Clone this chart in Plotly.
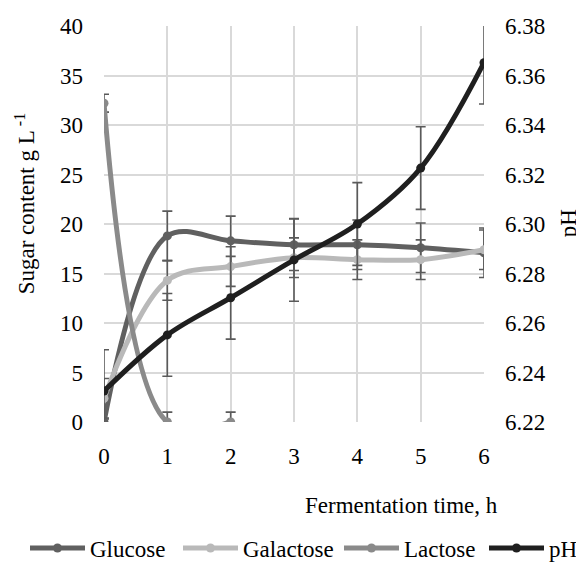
import plotly.graph_objects as go

# fermentation time, h
hours = [0, 1, 2, 3, 4, 5, 6]

glucose = [0, 18.8, 18.3, 17.9, 17.9, 17.6, 17.1]
glucose_err = [0.3, 2.5, 2.5, 2.6, 2.5, 2.5, 2.5]

galactose = [2.4, 14.3, 15.7, 16.6, 16.4, 16.4, 17.4]
galactose_err = [2.0, 2.0, 2.0, 2.0, 2.0, 2.0, 2.0]

lactose_hours = [0, 1, 2]
lactose = [32.2, 0, 0]
lactose_err = [0.9, 1.0, 1.0]

ph = [6.2325, 6.2552, 6.2702, 6.2855, 6.300, 6.3226, 6.3652]
ph_err = [0.0167, 0.0167, 0.0167, 0.0167, 0.0167, 0.0167, 0.0167]

font = "Liberation Serif"
err_col = "#5a5a5a"

W, H = 576, 554  # page body has an 8px margin


def series(name, x, y, err, color, legend, axis="y"):
  return go.Scatter(
    x=x, y=y, name=name, yaxis=axis, legend=legend,
    mode="lines+markers",
    line=dict(color=color, width=5, shape="spline", smoothing=1),
    marker=dict(color=color, size=9),
    error_y=dict(type="data", array=err, visible=True,
                 color=err_col, thickness=1.6, width=5),
    cliponaxis=True,
  )


traces = [
  series("Glucose", hours, glucose, glucose_err, "#606060", "legend"),
  series("Galactose", hours, galactose, galactose_err, "#b9b9b9", "legend2"),
  series("Lactose", lactose_hours, lactose, lactose_err, "#8a8a8a", "legend3"),
  series("pH", hours, ph, ph_err, "#1f1f1f", "legend4", axis="y2"),
]


def leg(px):
  return dict(orientation="h", xref="container", yref="container",
              x=px / W, xanchor="left", y=1 - 540 / H, yanchor="middle",
              font=dict(family=font, size=23, color="#000000"),
              bgcolor="rgba(0,0,0,0)", itemwidth=55)


grid = "#d9d9d9"
tf = dict(family=font, size=23, color="#000000")
layout = go.Layout(
  width=W, height=H,
  paper_bgcolor="white", plot_bgcolor="white",
  font=dict(family=font, size=23, color="#000000"),
  margin=dict(l=96, r=100, t=18, b=140, autoexpand=False),
  showlegend=True,
  legend=leg(17), legend2=leg(170), legend3=leg(331), legend4=leg(476),
  xaxis=dict(range=[0, 6], dtick=1, showgrid=True, gridcolor=grid, gridwidth=1.5,
             zeroline=False, showline=False, ticks="", tickfont=tf,
             automargin=False, ticklabelstandoff=18),
  yaxis=dict(range=[0, 40], dtick=5, showgrid=True, gridcolor=grid, gridwidth=1.5,
             zeroline=False, showline=False, ticks="", tickfont=tf,
             automargin=False, ticklabelstandoff=20),
  yaxis2=dict(range=[6.22, 6.38], dtick=0.02, tickformat=".2f", overlaying="y", side="right",
              showgrid=False, zeroline=False, showline=False, ticks="", tickfont=tf,
              automargin=False, ticklabelstandoff=20),
  annotations=[
    dict(text="Fermentation time, h", xref="paper", yref="paper",
         x=0.783, y=-0.21, xanchor="center", yanchor="middle",
         showarrow=False, font=tf),
    dict(text="Sugar content g L<sup> -1</sup>", xref="paper", yref="paper",
         x=-0.208, y=0.552, xanchor="center", yanchor="middle", textangle=-90,
         showarrow=False, font=tf),
    dict(text="pH", xref="paper", yref="paper",
         x=1.222, y=0.503, xanchor="center", yanchor="middle", textangle=-90,
         showarrow=False, font=tf),
  ],
)

fig = go.Figure(data=traces, layout=layout)
fig.write_html("out.html")
